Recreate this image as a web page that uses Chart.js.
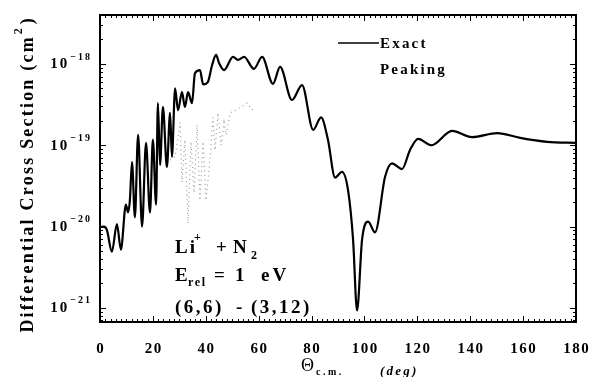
<!DOCTYPE html>
<html>
<head>
<meta charset="utf-8">
<script src="https://cdn.jsdelivr.net/npm/chart.js@4.4.1/dist/chart.umd.min.js"></script>
<style>
  html, body { margin: 0; padding: 0; background: #fff; }
  #wrap { width: 589px; height: 377px; }
</style>
</head>
<body>
<div id="wrap"><canvas id="dcs"></canvas></div>
<script>
// Li+ + N2, E_rel = 1 eV : exact vs peaking differential cross section

const exactAngles = [0, 1.5, 2.6, 4.5, 6.4, 7.9, 9.8, 10.6, 11.3, 12.1, 13.2, 14.4, 15.9, 17.4, 18.9,
  20.0, 21.2, 21.9, 22.7, 23.8, 25.3, 26.5, 27.2, 28.4, 29.5, 31.0, 32.1, 33.3, 34.8, 35.9,
  37.8, 39.0, 40.8, 42.4, 43.9, 45.0, 46.9, 50.3, 52.2, 54.5, 58.2, 61.3, 65.4, 68.1, 72.6,
  76.4, 80.6, 83.6, 86.2, 88.9, 91.5, 93.8, 95.7, 97.2, 99.1, 101.4, 104.0, 107.8, 110.4,
  114.2, 117.2, 120.3, 125.4, 133.1, 140.7, 150.2, 158.9, 169.1, 180];
const exactValues = [9.9e-21, 1.0e-20, 9.1e-21, 4.9e-21, 1.07e-20, 5.2e-21, 1.86e-20, 1.5e-20, 2.1e-20,
  6.2e-20, 1.3e-20, 1.34e-19, 1.0e-20, 1.07e-19, 1.48e-20,
  1.17e-19, 1.86e-20, 3.3e-19, 5.7e-20, 2.96e-19, 5.4e-20, 2.5e-19, 7.2e-20, 5.0e-19, 2.7e-19,
  4.5e-19, 2.96e-19, 4.5e-19, 3.3e-19, 7.7e-19,
  8.4e-19, 5.6e-19, 6.0e-19, 9.7e-19, 1.29e-18, 1.03e-18, 8.4e-19, 1.22e-18, 1.12e-18, 1.22e-18,
  8.7e-19, 1.22e-18, 5.7e-19, 9.2e-19, 3.6e-19,
  5.5e-19, 1.55e-19, 2.2e-19, 1.17e-19, 4.0e-20, 4.7e-20, 2.8e-20, 6.9e-21, 9.3e-22, 6.9e-21,
  1.15e-20, 8.5e-21, 4.1e-20, 6.0e-20,
  5.1e-20, 8.7e-20, 1.2e-19, 1.0e-19, 1.5e-19, 1.26e-19, 1.41e-19, 1.23e-19, 1.1e-19, 1.07e-19];

const peakAngles = [26.5, 28.4, 30.3, 31.0, 32.1, 33.3, 34.4, 35.6, 36.7, 37.8, 39.0, 40.1,
  41.6, 42.7, 43.5, 44.6, 45.8, 46.9, 47.7, 49.2, 51.1, 53.3, 55.6, 58.2];
const peakValues = [6.6e-20, 7.2e-20, 1.9e-19, 3.5e-20, 1.17e-19, 1.1e-20, 1.1e-19, 2.6e-20, 1.78e-19,
  2.1e-20, 1.1e-19, 2.1e-20, 6.6e-20, 2.2e-19, 8.7e-20, 2.5e-19, 1.0e-19, 1.9e-19, 1.34e-19,
  2.5e-19, 2.7e-19, 2.96e-19, 3.3e-19, 2.6e-19];

const xTicks = [0, 20, 40, 60, 80, 100, 120, 140, 160, 180];
const yTickExps = [-18, -19, -20, -21];

const SERIF = '"Liberation Serif", "DejaVu Serif", serif';

// draw text char by char with extra spacing, returns end x
function spaced(ctx, text, x, y, gap) {
  for (const ch of text) {
    ctx.fillText(ch, x, y);
    x += ctx.measureText(ch).width + gap;
  }
  return x;
}
function spacedWidth(ctx, text, gap) {
  let w = 0;
  for (const ch of text) w += ctx.measureText(ch).width + gap;
  return w - gap;
}

const framePlugin = {
  id: 'frame',
  afterDatasetsDraw(chart) {
    const { ctx, chartArea: a, scales: { x, y } } = chart;
    ctx.save();
    ctx.strokeStyle = '#000';
    ctx.fillStyle = '#000';

    // frame
    ctx.lineWidth = 2;
    ctx.strokeRect(a.left, a.top, a.right - a.left, a.bottom - a.top);

    // inward ticks
    ctx.lineWidth = 1;
    ctx.beginPath();
    for (let t = 0; t <= 180; t += 2) {
      const px = Math.round(x.getPixelForValue(t)) + 0.5;
      const len = t % 20 === 0 ? 6 : 3;
      ctx.moveTo(px, a.bottom); ctx.lineTo(px, a.bottom - len);
      ctx.moveTo(px, a.top); ctx.lineTo(px, a.top + len);
    }
    for (let e = -22; e <= -18; e++) {
      for (let k = 1; k <= 9; k++) {
        const v = k * Math.pow(10, e);
        if (v < y.min || v > y.max) continue;
        const py = Math.round(y.getPixelForValue(v)) + 0.5;
        const len = k === 1 ? 6 : 3;
        ctx.moveTo(a.left, py); ctx.lineTo(a.left + len, py);
        ctx.moveTo(a.right, py); ctx.lineTo(a.right - len, py);
      }
    }
    ctx.stroke();

    // x tick labels
    ctx.textBaseline = 'middle';
    ctx.textAlign = 'left';
    ctx.font = 'bold 15px ' + SERIF;
    xTicks.forEach(t => {
      const s = String(t);
      const w = spacedWidth(ctx, s, 1.5);
      spaced(ctx, s, x.getPixelForValue(t) - w / 2, 349, 1.5);
    });

    // y tick labels 10^n
    yTickExps.forEach(e => {
      const py = y.getPixelForValue(Math.pow(10, e));
      ctx.font = 'bold 10px ' + SERIF;
      const exp = '\u2212' + String(-e);
      const ew = spacedWidth(ctx, exp, 2);
      const ex = 90 - ew;
      spaced(ctx, exp, ex, py - 7, 2);
      ctx.font = 'bold 15px ' + SERIF;
      const bw = spacedWidth(ctx, '10', 2);
      spaced(ctx, '10', ex - 3 - bw, py + 0.5, 2);
    });

    // y axis title
    ctx.save();
    ctx.translate(28, 176);
    ctx.rotate(-Math.PI / 2);
    ctx.font = 'bold 18px ' + SERIF;
    const main = 'Differential Cross Section (cm';
    const mw = spacedWidth(ctx, main, 2.2);
    ctx.font = 'bold 12px ' + SERIF;
    const sw = ctx.measureText('2').width;
    ctx.font = 'bold 18px ' + SERIF;
    const cw = ctx.measureText(')').width;
    let tx = -(mw + sw + cw + 6) / 2;
    tx = spaced(ctx, main, tx, 0, 2.2);
    ctx.font = 'bold 12px ' + SERIF;
    ctx.fillText('2', tx + 1, -9);
    ctx.font = 'bold 18px ' + SERIF;
    ctx.fillText(')', tx + sw + 5, 0);
    ctx.restore();

    // x axis title
    ctx.textBaseline = 'alphabetic';
    ctx.font = '18px ' + SERIF;
    ctx.fillText('\u0398', 301, 371);
    ctx.font = 'bold 10px ' + SERIF;
    spaced(ctx, 'c.m.', 316, 375, 2.5);
    ctx.font = 'italic bold 13px ' + SERIF;
    spaced(ctx, '(deg)', 380, 375, 2.2);

    // legend
    ctx.lineWidth = 1.5;
    ctx.beginPath();
    ctx.moveTo(338, 43); ctx.lineTo(379, 43);
    ctx.stroke();
    ctx.font = 'bold 15px ' + SERIF;
    spaced(ctx, 'Exact', 380, 48, 2.2);
    spaced(ctx, 'Peaking', 380, 74, 2.2);

    // annotation
    ctx.font = 'bold 19px ' + SERIF;
    spaced(ctx, 'Li', 175, 253, 2);
    ctx.font = 'bold 12px ' + SERIF;
    ctx.fillText('+', 194, 241);
    ctx.font = 'bold 19px ' + SERIF;
    ctx.fillText('+', 216, 253);
    ctx.fillText('N', 233, 253);
    ctx.font = 'bold 12px ' + SERIF;
    ctx.fillText('2', 251, 259);

    ctx.font = 'bold 19px ' + SERIF;
    ctx.fillText('E', 175, 281);
    ctx.font = 'bold 12px ' + SERIF;
    spaced(ctx, 'rel', 188, 286, 1.5);
    ctx.font = 'bold 19px ' + SERIF;
    ctx.fillText('=', 214, 281);
    ctx.fillText('1', 235, 281);
    spaced(ctx, 'eV', 261, 281, 3);

    spaced(ctx, '(6,6)', 175, 313, 2.5);
    ctx.fillText('-', 236, 313);
    spaced(ctx, '(3,12)', 251, 313, 2.5);

    ctx.restore();
  }
};

new Chart(document.getElementById('dcs'), {
  type: 'line',
  data: {
    datasets: [
      {
        label: 'Exact',
        data: exactAngles.map((a, i) => ({ x: a, y: exactValues[i] })),
        borderColor: '#000',
        borderWidth: 2.2,
        pointRadius: 0,
        cubicInterpolationMode: 'monotone',
        fill: false
      },
      {
        label: 'Peaking',
        data: peakAngles.map((a, i) => ({ x: a, y: peakValues[i] })),
        borderColor: '#9a9a9a',
        borderWidth: 1.2,
        borderDash: [1, 3.5],
        pointRadius: 0,
        tension: 0,
        fill: false
      }
    ]
  },
  options: {
    responsive: true,
    maintainAspectRatio: false,
    animation: false,
    devicePixelRatio: 1,
    layout: { padding: { top: 15, right: 13, left: 0, bottom: 0 } },
    plugins: { legend: { display: false }, tooltip: { enabled: false } },
    scales: {
      x: {
        type: 'linear', min: 0, max: 180,
        grid: { display: false }, border: { display: false }, ticks: { display: false },
        afterFit(s) { s.height = 55; }
      },
      y: {
        type: 'logarithmic', min: 6.7e-22, max: 4e-18,
        grid: { display: false }, border: { display: false }, ticks: { display: false },
        afterFit(s) { s.width = 100; }
      }
    }
  },
  plugins: [framePlugin]
});
</script>
</body>
</html>
